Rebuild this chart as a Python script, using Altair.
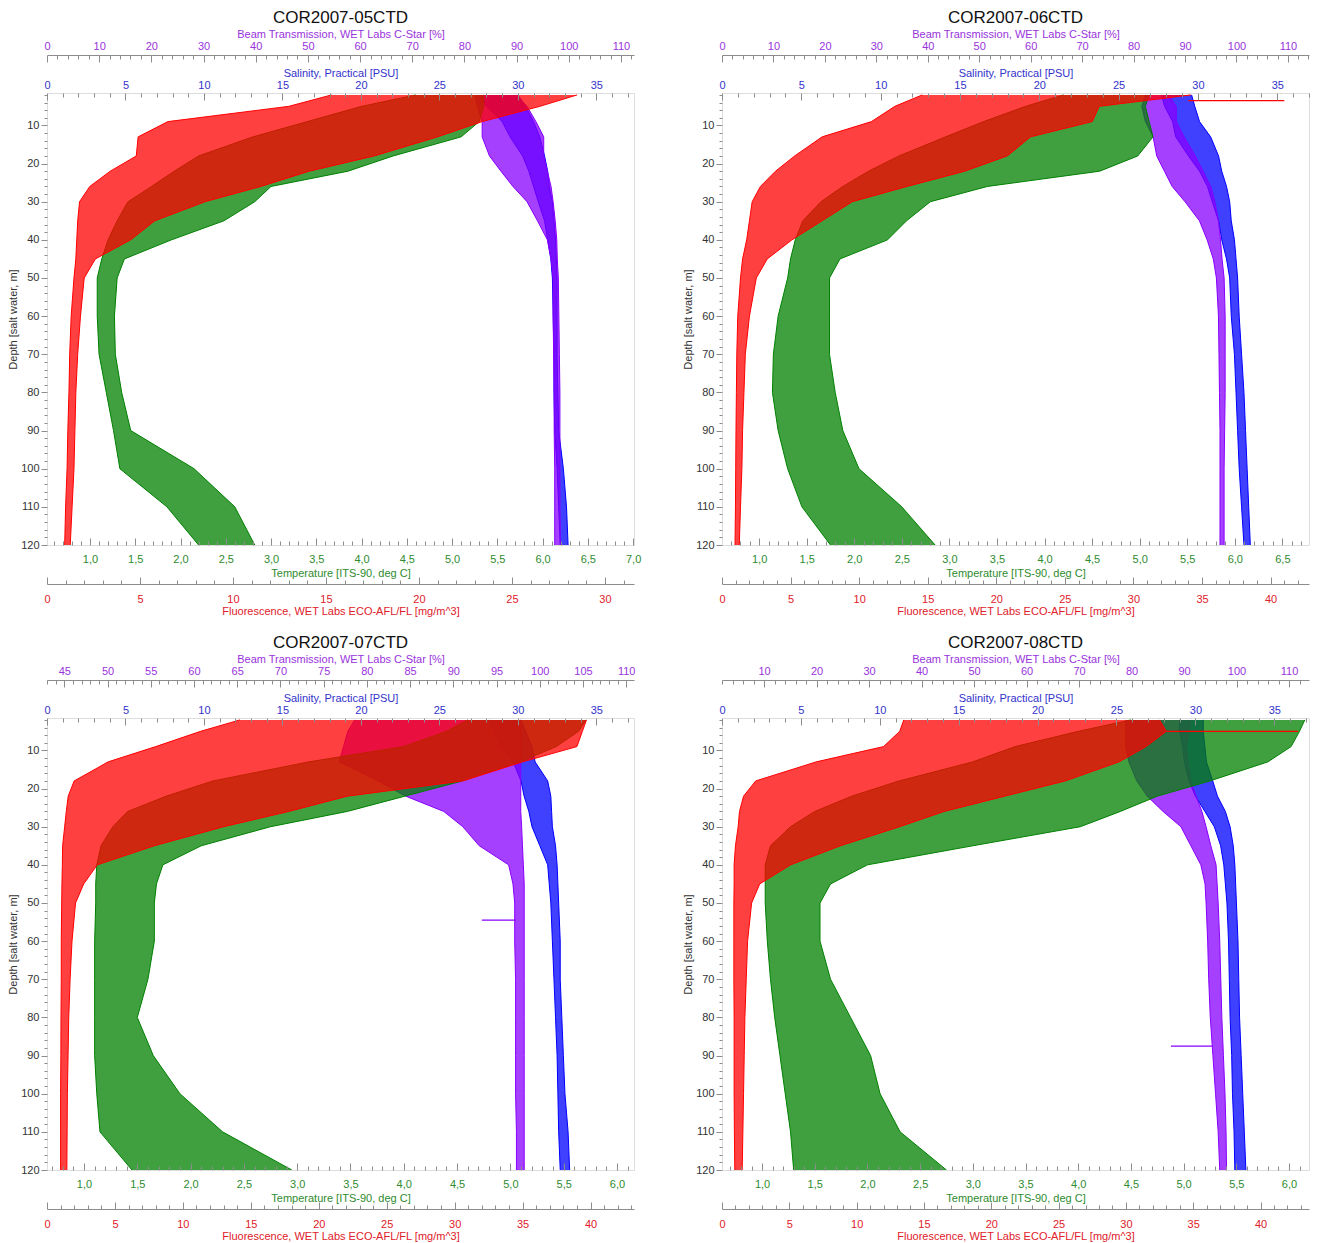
import math
import altair as alt
import pandas as pd

# ---------------- data ----------------
DEPTH = [2, 5, 9, 13, 18, 22, 26, 30, 35, 40, 45, 50, 60, 70, 80, 90, 100, 110, 120]

# Panel 1: COR2007-05CTD  (envelopes of the cast bundle, left / right)
P1_FL_LO = [15.3, 13.0, 6.5, 4.9, 4.8, 3.4, 2.3, 1.75, 1.65, 1.6, 1.55, 1.45, 1.3, 1.22, 1.18, 1.12, 1.08, 1.0, 0.95]
P1_FL_HI = [28.5, 26.5, 23.4, 21.0, 17.6, 14.1, 11.5, 8.5, 5.8, 4.5, 2.6, 2.0, 1.8, 1.65, 1.55, 1.5, 1.45, 1.35, 1.25]
P1_T_LO = [4.6, 4.0, 3.4, 2.8, 2.2, 1.93, 1.68, 1.42, 1.3, 1.2, 1.13, 1.08, 1.08, 1.1, 1.18, 1.26, 1.33, 1.85, 2.2]
P1_T_HI = [5.35, 5.35, 5.3, 5.1, 4.35, 3.85, 3.0, 2.82, 2.48, 1.9, 1.38, 1.3, 1.27, 1.28, 1.35, 1.45, 2.15, 2.6, 2.82]
P1_S_LO = [27.5, 28.0, 29.0, 29.5, 30.3, 30.7, 31.0, 31.3, 31.7, 31.9, 32.1, 32.2, 32.25, 32.3, 32.3, 32.35, 32.5, 32.6, 32.7]
P1_S_HI = [30.0, 30.5, 31.0, 31.4, 31.7, 31.9, 32.0, 32.2, 32.3, 32.4, 32.45, 32.5, 32.5, 32.5, 32.55, 32.6, 32.9, 33.1, 33.2]
P1_B_LO = [82.0, 82.5, 83.4, 83.4, 84.8, 87.0, 89.3, 92.0, 94.0, 95.9, 96.6, 97.0, 97.0, 97.1, 97.2, 97.2, 97.3, 97.3, 97.3]
P1_B_HI = [90.0, 92.0, 93.7, 95.2, 95.2, 95.9, 96.6, 97.0, 97.4, 97.7, 97.8, 98.0, 98.1, 98.2, 98.3, 98.3, 98.3, 98.3, 98.4]

# Panel 2: COR2007-06CTD
P2_FL_LO = [14.6, 12.6, 10.9, 7.3, 5.3, 3.9, 2.8, 2.2, 2.0, 1.8, 1.5, 1.35, 1.15, 1.08, 1.05, 1.02, 1.0, 0.98, 0.95]
P2_FL_HI = [34.2, 27.5, 27.0, 22.5, 20.8, 17.7, 13.5, 9.5, 7.3, 5.1, 3.3, 2.5, 2.0, 1.7, 1.6, 1.5, 1.45, 1.35, 1.26]
P2_T_LO = [4.2, 3.8, 3.36, 2.96, 2.47, 2.15, 1.88, 1.65, 1.46, 1.38, 1.33, 1.3, 1.2, 1.15, 1.14, 1.2, 1.3, 1.45, 1.75]
P2_T_HI = [5.1, 5.06, 5.1, 5.14, 4.98, 4.58, 3.4, 2.8, 2.55, 2.35, 1.85, 1.74, 1.74, 1.74, 1.8, 1.88, 2.05, 2.5, 2.85]
P2_S_LO = [27.7, 27.9, 28.4, 28.6, 29.4, 30.1, 30.6, 30.9, 31.3, 31.5, 31.8, 32.0, 32.1, 32.3, 32.4, 32.5, 32.6, 32.75, 32.9]
P2_S_HI = [29.6, 29.8, 30.1, 30.8, 31.3, 31.5, 31.8, 32.0, 32.1, 32.3, 32.4, 32.5, 32.6, 32.75, 32.9, 33.0, 33.1, 33.2, 33.3]
P2_B_LO = [82.3, 81.6, 82.3, 83.8, 84.5, 86.0, 87.5, 90.0, 92.8, 94.3, 95.5, 96.1, 96.5, 96.6, 96.7, 96.8, 96.8, 96.8, 96.8]
P2_B_HI = [86.8, 88.3, 88.3, 89.8, 92.0, 93.5, 95.0, 95.8, 96.5, 96.9, 97.2, 97.6, 97.8, 97.8, 97.8, 97.7, 97.6, 97.6, 97.6]

# Panel 3: COR2007-07CTD
P3_FL_LO = [14.2, 11.3, 8.0, 4.5, 2.0, 1.56, 1.42, 1.3, 1.15, 1.13, 1.1, 1.08, 1.05, 1.05, 1.03, 1.02, 1.0, 1.0, 1.0]
P3_FL_HI = [39.7, 39.4, 39.0, 35.0, 30.6, 22.1, 17.8, 13.0, 7.9, 3.7, 2.7, 2.1, 1.84, 1.7, 1.6, 1.55, 1.5, 1.48, 1.46]
P3_T_LO = [4.6, 4.4, 4.0, 3.11, 2.21, 1.77, 1.41, 1.27, 1.16, 1.12, 1.11, 1.11, 1.1, 1.1, 1.1, 1.1, 1.12, 1.15, 1.45]
P3_T_HI = [5.71, 5.64, 5.43, 5.09, 4.55, 4.01, 3.47, 2.75, 2.1, 1.74, 1.68, 1.66, 1.66, 1.6, 1.5, 1.65, 1.9, 2.3, 2.95]
P3_S_LO = [28.2, 28.5, 28.9, 29.7, 30.2, 30.4, 30.7, 30.9, 31.4, 31.9, 32.0, 32.1, 32.2, 32.3, 32.4, 32.5, 32.55, 32.6, 32.7]
P3_S_HI = [30.2, 30.5, 30.9, 31.1, 31.9, 32.1, 32.15, 32.2, 32.4, 32.5, 32.55, 32.6, 32.7, 32.7, 32.8, 32.9, 33.0, 33.2, 33.3]
P3_B_LO = [78.6, 77.8, 77.3, 76.8, 81.3, 84.5, 88.9, 91.1, 93.0, 96.4, 96.9, 97.1, 97.1, 97.2, 97.2, 97.2, 97.2, 97.3, 97.3]
P3_B_HI = [97.8, 97.8, 97.8, 97.8, 97.8, 97.8, 97.8, 97.9, 98.0, 98.1, 98.2, 98.2, 98.2, 98.2, 98.2, 98.2, 98.2, 98.2, 98.2]

# Panel 4: COR2007-08CTD
P4_FL_LO = [13.5, 13.2, 12.0, 7.0, 2.5, 1.6, 1.3, 1.2, 1.0, 0.9, 0.9, 0.88, 0.88, 0.88, 0.9, 0.9, 0.9, 0.92, 0.95]
P4_FL_HI = [32.5, 33.0, 31.5, 29.5, 25.5, 21.0, 16.5, 13.2, 8.8, 5.1, 2.8, 2.2, 1.9, 1.8, 1.7, 1.65, 1.6, 1.55, 1.5]
P4_T_LO = [4.5, 4.0, 3.4, 3.0, 2.3, 1.85, 1.5, 1.27, 1.08, 1.03, 1.03, 1.03, 1.05, 1.08, 1.12, 1.17, 1.22, 1.27, 1.3]
P4_T_HI = [6.15, 6.1, 6.02, 5.8, 5.25, 4.75, 4.4, 4.02, 3.0, 2.0, 1.65, 1.55, 1.55, 1.65, 1.84, 2.03, 2.12, 2.31, 2.75]
P4_S_LO = [29.0, 29.0, 29.2, 29.3, 29.6, 30.0, 30.6, 31.2, 31.6, 31.8, 31.9, 32.0, 32.1, 32.15, 32.2, 32.3, 32.35, 32.45, 32.5]
P4_S_HI = [30.5, 30.5, 30.6, 30.7, 31.1, 31.4, 31.9, 32.2, 32.4, 32.5, 32.55, 32.6, 32.7, 32.75, 32.8, 32.9, 33.0, 33.1, 33.2]
P4_B_LO = [78.9, 78.9, 78.9, 79.5, 81.0, 83.0, 86.0, 89.4, 91.3, 93.2, 94.0, 94.2, 94.5, 94.7, 95.0, 95.5, 96.0, 96.5, 96.8]
P4_B_HI = [91.3, 91.0, 90.4, 90.8, 91.3, 92.3, 93.4, 94.2, 95.1, 96.1, 96.3, 96.5, 96.8, 97.0, 97.2, 97.5, 97.8, 98.0, 98.1]

# isolated spikes: [depth, from, to]
P2_FL_SPIKES = [[3.5, 34.0, 41.0]]
P3_B_SPIKES = [[54.5, 93.3, 97.2]]
P4_FL_SPIKES = [[5.0, 33.0, 42.8]]
P4_B_SPIKES = [[87.5, 87.5, 95.5]]

TITLES = ["COR2007-05CTD", "COR2007-06CTD", "COR2007-07CTD", "COR2007-08CTD"]

# axis ranges of each panel (fluorescence, temperature, salinity, beam)
DOMAINS = [
    {"fl": (0, 31.56), "temp": (0.525, 7.01), "sal": (0, 37.4), "beam": (0, 112.5)},
    {"fl": (0, 42.8), "temp": (0.61, 6.78), "sal": (0, 37.0), "beam": (0, 114.1)},
    {"fl": (0, 43.2), "temp": (0.653, 6.16), "sal": (0, 37.4), "beam": (43.0, 110.9)},
    {"fl": (0, 43.6), "temp": (0.62, 6.19), "sal": (0, 37.2), "beam": (2.0, 113.8)},
]
BEAM_STEPS = [(10, 2), (10, 2), (5, 1), (10, 2)]

# ---------------- styling ----------------
W, H = 587, 452
FONT = "Liberation Sans"
AX = "#8c8c8c"
YDOM = [1.5, 120]
OPACITY = 0.75

VARS = {
    "sal": dict(side="top", off=0, color="#0000ff", lab="#3333cc",
                title="Salinity, Practical [PSU]", lpad=3, tpad=1),
    "beam": dict(side="top", off=38, color="#8800ff", lab="#9933dd",
                 title="Beam Transmission, WET Labs C-Star [%]", lpad=4, tpad=1),
    "temp": dict(side="bottom", off=0, color="#008000", lab="#2e8b2e",
                 title="Temperature [ITS-90, deg C]", lpad=8, tpad=3),
    "fl": dict(side="bottom", off=39, color="#ff0000", lab="#e0202a",
               title="Fluorescence, WET Labs ECO-AFL/FL [mg/m^3]", lpad=9, tpad=1),
}


def rng(a, b, step):
    n0 = math.ceil(a / step - 1e-9)
    n1 = math.floor(b / step + 1e-9)
    return [round(i * step, 4) for i in range(n0, n1 + 1)]


YSCALE = alt.Scale(domain=YDOM, reverse=True, nice=False, zero=False)
YAXIS = alt.Axis(orient="left", values=rng(2, 120, 2),
                 labelExpr="datum.value % 10 == 0 ? format(datum.value, 'd') : ''",
                 ticks=True, tickColor=AX,
                 tickSize={"condition": {"test": "datum.value % 10 == 0", "value": 6}, "value": 3},
                 domain=False, labelPadding=2, labelColor="#333333", labelFontSize=11,
                 labelFont=FONT, title="Depth [salt water, m]", titleColor="#333333",
                 titleFontSize=11, titleFont=FONT, titleFontWeight="normal", titlePadding=2,
                 grid=False, labelFlush=False, labelOverlap=False)


def Y():
    return alt.Y("depth:Q", scale=YSCALE, axis=YAXIS, title="Depth [salt water, m]")


def xscale(dom):
    return alt.Scale(domain=list(dom), nice=False, zero=False)


def var_layers(var, dom, lo, hi, spikes, major):
    c = VARS[var]
    df = pd.DataFrame({"depth": DEPTH, "lo": lo, "hi": hi})
    long = pd.DataFrame({
        "depth": DEPTH + DEPTH,
        "val": list(lo) + list(hi),
        "s": ["lo"] * len(DEPTH) + ["hi"] * len(DEPTH),
    })
    fmt = "replace(format(datum.value, '.1f'), '.', ',')" if var == "temp" else "format(datum.value, 'd')"
    xaxis = alt.Axis(orient=c["side"], offset=c["off"], values=rng(dom[0], dom[1], major),
                     labelExpr=fmt, ticks=False, tickSize=0, domain=c["off"] > 0,
                     domainColor=AX, labelColor=c["lab"], titleColor=c["lab"], title=c["title"],
                     labelPadding=c["lpad"], titlePadding=c["tpad"], labelFlush=False,
                     labelOverlap=False, grid=False, labelFontSize=11, titleFontSize=11,
                     titleFontWeight="normal", labelFont=FONT, titleFont=FONT)
    area = alt.Chart(df).mark_area(orient="horizontal", color=c["color"], opacity=OPACITY,
                                   clip=True).encode(
        y=Y(),
        x=alt.X("lo:Q", scale=xscale(dom), axis=xaxis),
        x2="hi:Q",
    )
    lines = alt.Chart(long).mark_line(color=c["color"], strokeWidth=1, clip=True).encode(
        y=Y(),
        x=alt.X("val:Q", scale=xscale(dom), axis=None),
        detail="s:N",
        order="depth:Q",
    )
    out = [area, lines]
    if spikes:
        sp = pd.DataFrame(spikes, columns=["depth", "a", "b"])
        out.append(alt.Chart(sp).mark_rule(color=c["color"], strokeWidth=1.2, clip=True).encode(
            y=Y(),
            x=alt.X("a:Q", scale=xscale(dom), axis=None),
            x2="b:Q",
        ))
    return out


def xticks(var, dom, major, minor):
    c = VARS[var]
    opp = "bottom" if c["side"] == "top" else "top"
    if var == "temp":
        test = "abs(round(datum.value * 10) % 5) == 0"
    else:
        test = "abs(round(datum.value) % " + str(int(major)) + ") == 0"
    ax = alt.Axis(orient=opp, offset=-(H + c["off"]), values=rng(dom[0], dom[1], minor),
                  labels=False, domain=False, ticks=True, tickColor=AX,
                  tickSize={"condition": {"test": test, "value": 7}, "value": 4},
                  title=None, grid=False, zindex=1)
    return alt.Chart(pd.DataFrame({"v": [dom[0]], "depth": [60]})).mark_point(opacity=0).encode(
        y=Y(),
        x=alt.X("v:Q", scale=xscale(dom), axis=ax),
    )


def panel(i, data, spikes):
    dom = DOMAINS[i]
    bmaj, bmin = BEAM_STEPS[i]
    layers = []
    layers += var_layers("sal", dom["sal"], data["s_lo"], data["s_hi"], spikes.get("sal"), 5)
    layers += var_layers("beam", dom["beam"], data["b_lo"], data["b_hi"], spikes.get("beam"), bmaj)
    layers += var_layers("temp", dom["temp"], data["t_lo"], data["t_hi"], spikes.get("temp"), 0.5)
    layers += var_layers("fl", dom["fl"], data["f_lo"], data["f_hi"], spikes.get("fl"), 5)
    layers += [
        xticks("sal", dom["sal"], 5, 1),
        xticks("beam", dom["beam"], bmaj, bmin),
        xticks("temp", dom["temp"], 0.5, 0.1),
        xticks("fl", dom["fl"], 5, 1),
    ]
    return alt.layer(*layers).resolve_scale(x="independent").properties(
        width=W, height=H,
        title=alt.TitleParams(TITLES[i], fontSize=17, font=FONT, fontWeight="normal",
                              color="#111111", offset=1),
    )


p1 = panel(0, dict(f_lo=P1_FL_LO, f_hi=P1_FL_HI, t_lo=P1_T_LO, t_hi=P1_T_HI,
                   s_lo=P1_S_LO, s_hi=P1_S_HI, b_lo=P1_B_LO, b_hi=P1_B_HI), {})
p2 = panel(1, dict(f_lo=P2_FL_LO, f_hi=P2_FL_HI, t_lo=P2_T_LO, t_hi=P2_T_HI,
                   s_lo=P2_S_LO, s_hi=P2_S_HI, b_lo=P2_B_LO, b_hi=P2_B_HI), {"fl": P2_FL_SPIKES})
p3 = panel(2, dict(f_lo=P3_FL_LO, f_hi=P3_FL_HI, t_lo=P3_T_LO, t_hi=P3_T_HI,
                   s_lo=P3_S_LO, s_hi=P3_S_HI, b_lo=P3_B_LO, b_hi=P3_B_HI), {"beam": P3_B_SPIKES})
p4 = panel(3, dict(f_lo=P4_FL_LO, f_hi=P4_FL_HI, t_lo=P4_T_LO, t_hi=P4_T_HI,
                   s_lo=P4_S_LO, s_hi=P4_S_HI, b_lo=P4_B_LO, b_hi=P4_B_HI),
           {"fl": P4_FL_SPIKES, "beam": P4_B_SPIKES})

chart = alt.concat(p1, p2, p3, p4, columns=2, spacing={"row": 173, "column": 88},
                   bounds="flush").properties(
    padding={"left": -1, "top": 0, "right": 2, "bottom": 2}
).configure_view(stroke=AX, strokeWidth=1).configure(font=FONT)

chart.save("out.html", embed_options={"renderer": "svg", "actions": False})
